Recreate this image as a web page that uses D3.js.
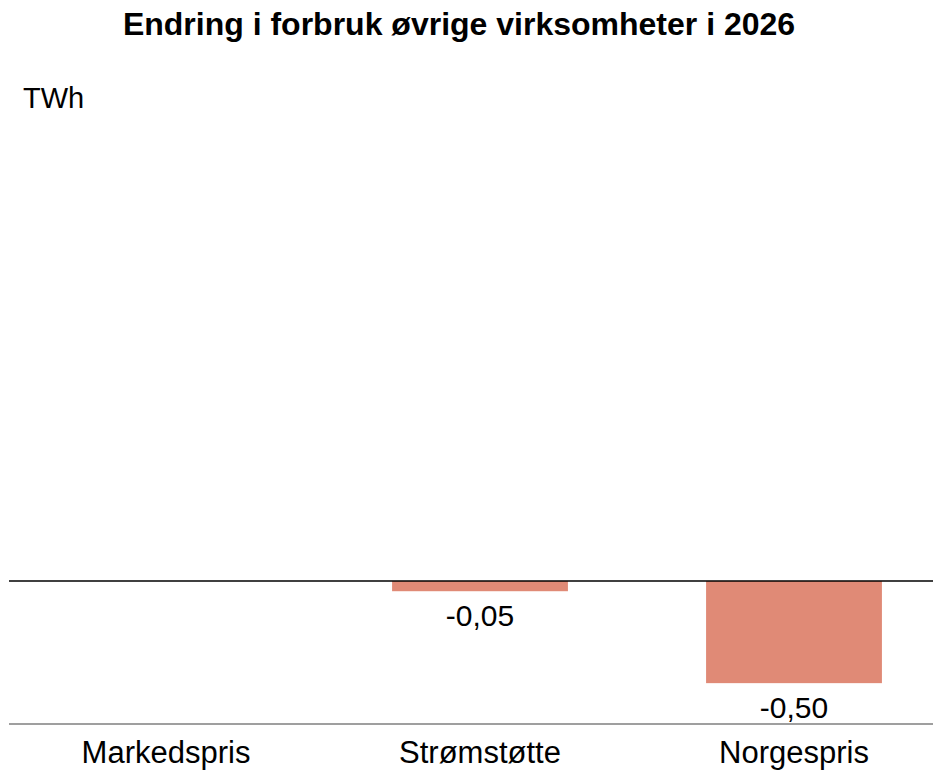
<!DOCTYPE html>
<html>
<head>
<meta charset="utf-8">
<script src="https://cdn.jsdelivr.net/npm/d3@7"></script>
<style>
  html, body { margin: 0; padding: 0; background: #fff; }
  svg { display: block; font-family: "Liberation Sans", Arial, sans-serif; }
</style>
</head>
<body>
<svg id="chart" width="933" height="770"></svg>
<script>
const title = "Endring i forbruk øvrige virksomheter i 2026";
const unitLabel = "TWh";
const categories = ["Markedspris", "Strømstøtte", "Norgespris"];
const values = [0, -0.05, -0.50];
const valueLabels = [null, "-0,05", "-0,50"];

const W = 933, H = 770;
const svg = d3.select("#chart");

const x = d3.scaleBand()
  .domain(categories)
  .range([9, 951])
  .paddingInner(0.44)
  .paddingOuter(0.22);

const y = d3.scaleLinear()
  .domain([-0.7, 0])
  .range([724, 581]);

// title
svg.append("text")
  .attr("x", 459).attr("y", 35)
  .attr("text-anchor", "middle")
  .attr("font-weight", "bold")
  .attr("font-size", 32)
  .attr("fill", "#000")
  .text(title);

svg.append("text")
  .attr("x", 23).attr("y", 108)
  .attr("font-size", 29)
  .attr("fill", "#000")
  .text(unitLabel);

const rows = categories.map((c, i) => ({c, v: values[i], l: valueLabels[i]}));

// bars
svg.selectAll("rect.bar")
  .data(rows.filter(d => d.v !== 0))
  .join("rect")
  .attr("class", "bar")
  .attr("x", d => x(d.c))
  .attr("width", x.bandwidth())
  .attr("y", d => y(Math.max(0, d.v)))
  .attr("height", d => Math.abs(y(d.v) - y(0)))
  .attr("fill", "#e08a76");

// value labels
svg.selectAll("text.vlabel")
  .data(rows.filter(d => d.l))
  .join("text")
  .attr("class", "vlabel")
  .attr("x", d => x(d.c) + x.bandwidth() / 2)
  .attr("y", d => y(d.v) + 35)
  .attr("text-anchor", "middle")
  .attr("font-size", 30)
  .attr("fill", "#000")
  .text(d => d.l);

// zero line
svg.append("line")
  .attr("x1", 9).attr("x2", W)
  .attr("y1", y(0)).attr("y2", y(0))
  .attr("stroke", "#000").attr("stroke-width", 1.5);

// bottom axis
const xAxis = d3.axisBottom(x).tickSize(0).tickPadding(0);
const gx = svg.append("g")
  .attr("transform", `translate(0,${y(-0.7)})`)
  .call(xAxis);
gx.select(".domain").remove();
gx.append("line")
  .attr("x1", 9).attr("x2", W)
  .attr("stroke", "#7f7f7f").attr("stroke-width", 1.5);
gx.selectAll(".tick text")
  .attr("font-size", 31)
  .attr("font-family", "Liberation Sans, Arial, sans-serif")
  .attr("fill", "#000")
  .attr("dy", 0)
  .attr("y", 39);
</script>
</body>
</html>
